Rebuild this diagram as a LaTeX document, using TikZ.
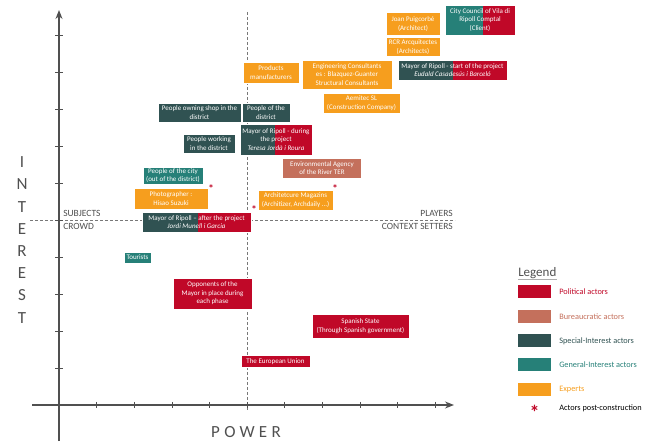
\documentclass[tikz,border=0pt]{standalone}
\usepackage{fontspec}
\setmainfont{Carlito}
\usetikzlibrary{arrows.meta,calc}
\definecolor{ink}{RGB}{80,80,80}
\definecolor{soft}{RGB}{120,120,120}
\definecolor{political}{RGB}{192,8,40}
\definecolor{bureau}{RGB}{196,112,92}
\definecolor{special}{RGB}{48,82,82}
\definecolor{general}{RGB}{38,128,120}
\definecolor{expert}{RGB}{246,158,30}
\tikzset{
  every picture/.style={color=ink, line width=0.5pt},
  box/.style={draw=white, line width=0.6pt, text=white, inner sep=0.5pt, align=center,
    font=\fontsize{7}{8.4}\selectfont},
  pol/.style={box, fill=political},
  bur/.style={box, fill=bureau},
  spec/.style={box, fill=special},
  gen/.style={box, fill=general},
  expt/.style={box, fill=expert},
  split/.style 2 args={box, fill=#1, path picture={
    \fill[political] ($(path picture bounding box.south west)!#2!(path picture bounding box.south east)$)
      rectangle (path picture bounding box.north east);}},
  axisline/.style={-{Stealth[length=9pt,width=7pt]}, line width=1.3pt, color=ink},
  tickmark/.style={line width=0.5pt, color=ink},
  guide/.style={densely dashed, line width=0.5pt, color=soft},
  quad/.style={font=\fontsize{9.5}{10}\selectfont, text=ink, inner sep=0pt},
  axlbl/.style={font=\fontsize{17}{22}\selectfont\addfontfeature{LetterSpace=25}, text=ink, align=center},
  post/.style={text=political, font=\fontsize{11}{11}\selectfont\bfseries, inner sep=0pt},
  swatch/.style={fill=#1, minimum width=33pt, minimum height=13pt, inner sep=0pt},
  key/.style={font=\fontsize{8.3}{9}\selectfont, inner sep=0pt, anchor=west},
}
\begin{document}
\begin{tikzpicture}[x=1pt, y=-1pt]
  \useasboundingbox (0,0) rectangle (656,443);
  % axes
  \coordinate (o) at (59,405);
  \coordinate (ybot) at (59,441);
  \coordinate (ytop) at (59,10);
  \coordinate (xleft) at (32,405);
  \coordinate (xright) at (454,405);
  \draw[guide] (247,12) -- (247,411);
  \draw[guide] (30,220) -- (455,220);
  \draw[axisline] (ybot) -- (ytop);
  \draw[axisline] (xleft) -- (xright);
  \foreach \i in {1,...,10} {
    \draw[tickmark] ($(o)+(37.6*\i,-3)$) -- ++(0,6);
    \draw[tickmark] ($(o)+(-4,-37*\i)$) -- ++(8,0);
  }
  \node[axlbl] (power) at (246,432) {POWER};
  \node[axlbl, font=\fontsize{17}{22.2}\selectfont] (interest) at (22,240) {I\\N\\T\\E\\R\\E\\S\\T};
  % quadrants
  \node[quad, anchor=south west] (subj) at (63,217) {SUBJECTS};
  \node[quad, anchor=north west] (crowd) at (63,223) {CROWD};
  \node[quad, anchor=south east] (play) at (453,217) {PLAYERS};
  \node[quad, anchor=north east] (ctx) at (453,223) {CONTEXT SETTERS};
  % actors
  \node[expt, minimum width=54pt, minimum height=23pt] (joan) at (413,24) {Joan Puigcorbé\\(Architect)};
  \node[expt, minimum width=54pt, minimum height=19pt] (rcr) at (413,47) {RCR Arcquitectes\\(Architects)};
  \node[split={general}{0.54}, minimum width=70pt, minimum height=30pt] (council) at (480,20) {City Council of Vila di\\Ripoll Comptal\\(Client)};
  \node[split={special}{0.5}, minimum width=109pt, minimum height=20pt] (mstart) at (452.5,70) {Mayor of Ripoll - start of the project\\\textit{Eudald Casadesús i Barceló}};
  \node[expt, minimum width=90pt, minimum height=29pt] (eng) at (347,74.5) {Engineering Consultants\\es : Blazquez-Guanter\\Structural Consultants};
  \node[expt, minimum width=56pt, minimum height=21pt] (prod) at (271,72.5) {Products\\manufacturers};
  \node[expt, minimum width=77pt, minimum height=20pt] (aem) at (361.5,103) {Aemitec SL\\(Construction Company)};
  \node[spec, minimum width=48pt, minimum height=19pt] (pdist) at (266,112.5) {People of the\\district};
  \node[spec, minimum width=83pt, minimum height=19pt] (pshop) at (199.5,112.5) {People owning shop in the\\district};
  \node[split={special}{0.49}, minimum width=72pt, minimum height=31pt] (mduring) at (276,139.5) {Mayor of Ripoll - during\\the project\\\textit{Teresa Jordà i Roura}};
  \node[spec, minimum width=52pt, minimum height=19pt] (pwork) at (209,143.5) {People working\\in the district};
  \node[bur, minimum width=79pt, minimum height=20pt] (env) at (322,168) {Environmental Agency\\of the River TER};
  \node[gen, minimum width=60pt, minimum height=17pt] (pcity) at (173,175.5) {People of the city\\(out of the district)};
  \node[expt, minimum width=74pt, minimum height=21pt] (photo) at (171,198.5) {Photographer :\\Hisao Suzuki};
  \node[expt, minimum width=75pt, minimum height=20pt] (mag) at (295.5,200) {Architetcure Magazins\\(Architizer, Archdaily ...)};
  \node[split={special}{0.51}, minimum width=109pt, minimum height=20pt] (mafter) at (196.5,222) {Mayor of Ripoll -- after the project\\\textit{Jordi Munell i Garcia}};
  \node[gen, minimum width=27pt, minimum height=11pt] (tour) at (137.5,257.5) {Tourists};
  \node[pol, minimum width=79pt, minimum height=31pt] (opp) at (212.5,293.5) {Opponents of the\\Mayor in place during\\each phase};
  \node[pol, minimum width=97pt, minimum height=24pt] (spain) at (360.5,326) {Spanish State\\(Through Spanish government)};
  \node[pol, minimum width=69pt, minimum height=12pt] (eu) at (275.5,361.5) {The European Union};
  % post-construction marks
  \node[post] (a1) at (211,189) {*};
  \node[post] (a2) at (335,189) {*};
  \node[post] (a3) at (254,210) {*};
  % legend
  \node[font=\fontsize{13}{14}\selectfont, anchor=west, inner sep=0pt] (leg) at (518,273) {Legend};
  \draw[soft!60, line width=1.2pt] ([yshift=-0.5pt]leg.south west) -- ([yshift=-0.5pt]leg.south east);
  \node[swatch=political] (s1) at (534.5,292) {};
  \node[swatch=bureau] (s2) at (534.5,317) {};
  \node[swatch=special] (s3) at (534.5,341) {};
  \node[swatch=general] (s4) at (534.5,365) {};
  \node[swatch=expert] (s5) at (534.5,390) {};
  \node[post, font=\fontsize{20}{20}\selectfont\bfseries] (s6) at (534.5,412) {*};
  \node[key, text=political] at (559,292) {Political actors};
  \node[key, text=bureau] at (559,317) {Bureaucratic actors};
  \node[key, text=special] at (559,341) {Special-Interest actors};
  \node[key, text=general] at (559,365) {General-Interest actors};
  \node[key, text=expert] at (559,390) {Experts};
  \node[key, text=black] at (559,408) {Actors post-construction};
\end{tikzpicture}
\end{document}
